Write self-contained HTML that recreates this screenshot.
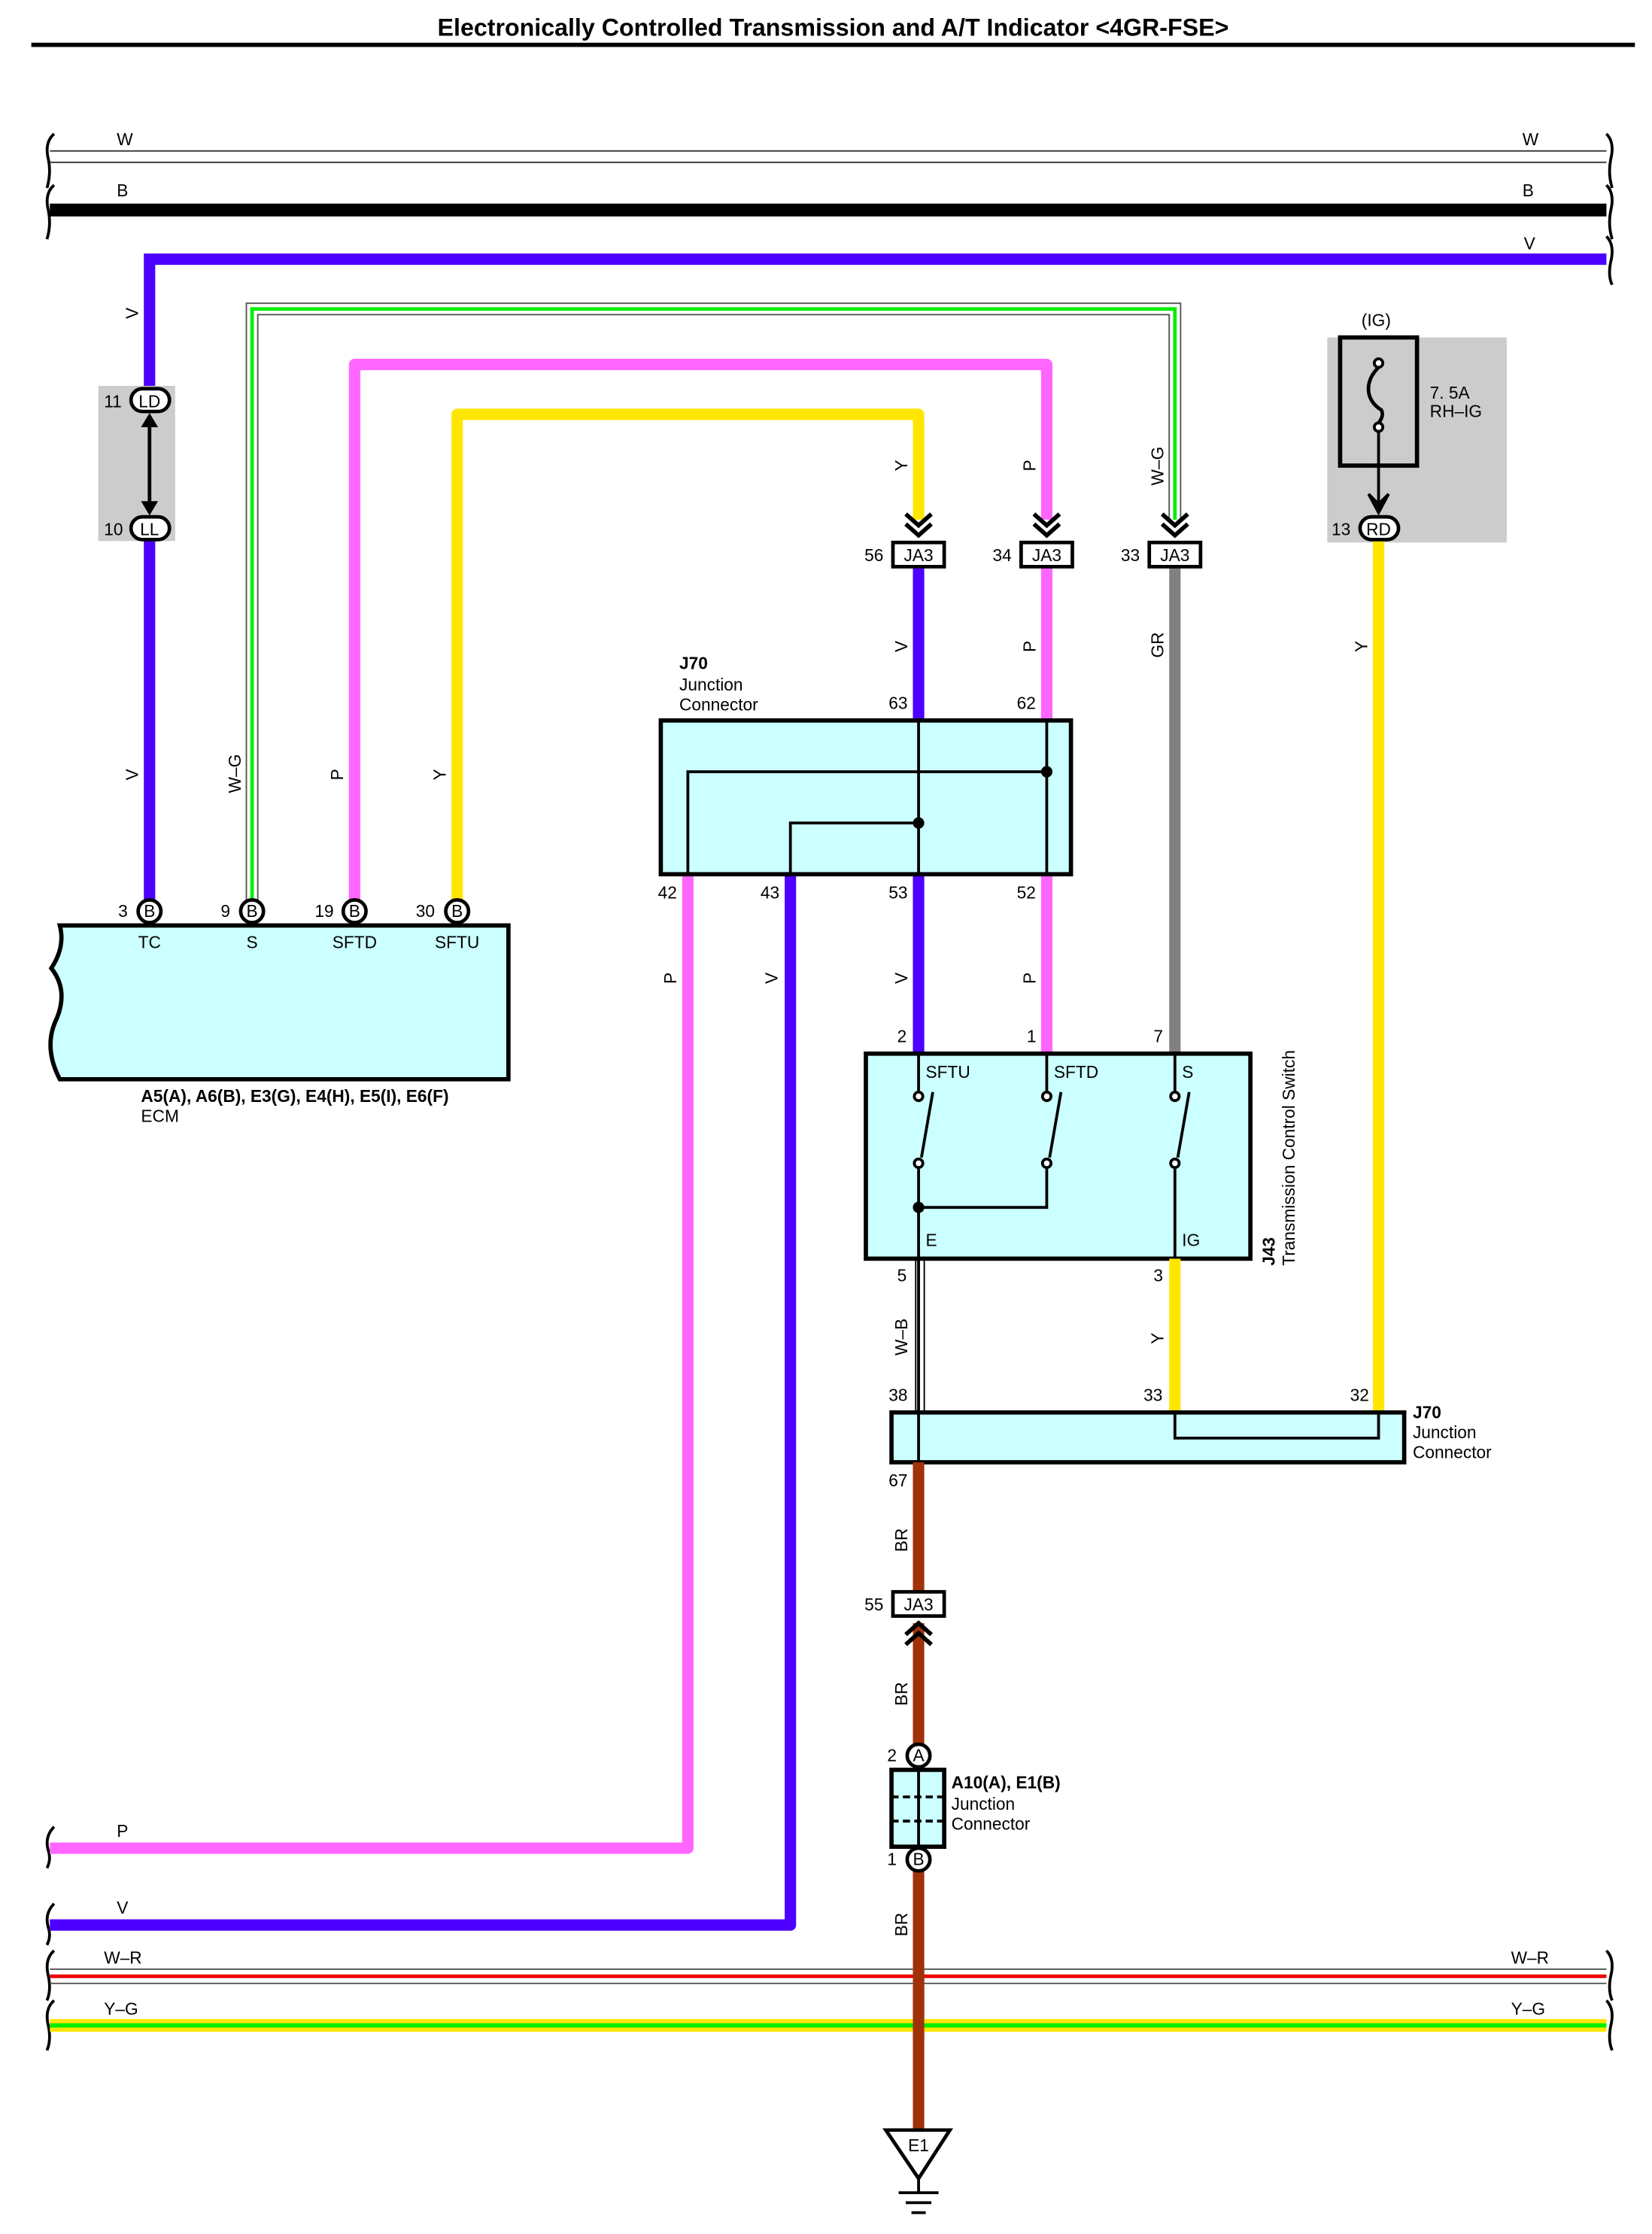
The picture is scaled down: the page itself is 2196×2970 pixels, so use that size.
<!DOCTYPE html>
<html><head><meta charset="utf-8"><style>
html,body{margin:0;padding:0;background:#fff;}
svg{display:block;}
text{font-family:"Liberation Sans",sans-serif;font-size:12px;fill:#000;}
.b{font-weight:bold;}
</style></head><body>
<svg width="2196" height="2970" viewBox="0 0 1160 1569" preserveAspectRatio="none" xmlns="http://www.w3.org/2000/svg">
<defs>
<g id="chev"><path d="M-9,-12 L0,-4 L9,-12 M-9,-5 L0,3 L9,-5" fill="none" stroke="#000" stroke-width="3"/></g>
</defs>
<text x="585" y="25" text-anchor="middle" class="b" style="font-size:17px">Electronically Controlled Transmission and A/T Indicator &lt;4GR-FSE&gt;</text>
<rect x="22" y="30" width="1126" height="3" fill="#000"/>

<!-- braces -->
<g fill="none" stroke="#000" stroke-width="2">
<path d="M38,94 Q31,100 34,112 Q36,122 33,132 M38,130 Q31,136 34,148 Q36,158 33,168"/>
<path d="M1128,94 Q1134,100 1131,112 Q1129,122 1132,132 M1128,130 Q1134,136 1131,148 Q1129,158 1132,168 M1128,166 Q1134,172 1131,184 Q1129,194 1132,200"/>
<path d="M38,1370 Q31,1376 34,1388 Q36,1398 33,1405 M38,1405 Q31,1411 34,1423 Q36,1433 33,1440"/>
<path d="M1128,1370 Q1134,1376 1131,1388 Q1129,1398 1132,1405 M1128,1405 Q1134,1411 1131,1423 Q1129,1433 1132,1440"/>
<path d="M38,1283 Q31,1290 34,1300 Q36,1306 33,1312 M38,1337 Q31,1344 34,1354 Q36,1360 33,1366"/>
</g>

<!-- top buses -->
<line x1="35" y1="106" x2="1128" y2="106" stroke="#333" stroke-width="1"/>
<line x1="35" y1="114" x2="1128" y2="114" stroke="#333" stroke-width="1"/>
<text x="82" y="102">W</text><text x="1069" y="102">W</text>
<rect x="35" y="143" width="1093" height="9" fill="#000"/>
<text x="82" y="138">B</text><text x="1069" y="138">B</text>
<text x="1070" y="175">V</text>

<!-- V wire to LD -->
<path d="M1128,182 L105,182 L105,280" fill="none" stroke="#4d00ff" stroke-width="8"/>
<rect x="69" y="271" width="54" height="109" fill="#cccccc"/>
<line x1="105" y1="371" x2="105" y2="640" stroke="#4d00ff" stroke-width="8"/>
<line x1="105" y1="292" x2="105" y2="360" stroke="#000" stroke-width="2.5"/>
<path d="M99,300 L105,290 L111,300 Z M99,352 L105,362 L111,352 Z" fill="#000"/>
<rect x="92" y="273" width="27" height="16" rx="8" fill="#fff" stroke="#000" stroke-width="2.5"/><text x="105" y="286" text-anchor="middle">LD</text>
<rect x="92" y="363" width="27" height="16" rx="8" fill="#fff" stroke="#000" stroke-width="2.5"/><text x="105" y="376" text-anchor="middle">LL</text>
<text x="73" y="286">11</text><text x="73" y="376">10</text>

<!-- W-G -->
<path d="M177,640 L177,217 L825,217 L825,365" fill="none" stroke="#555" stroke-width="9"/>
<path d="M177,640 L177,217 L825,217 L825,365" fill="none" stroke="#fff" stroke-width="7"/>
<path d="M177,640 L177,217 L825,217 L825,365" fill="none" stroke="#00ee00" stroke-width="2.5"/>
<!-- P -->
<path d="M249,640 L249,256 L735,256 L735,365" fill="none" stroke="#ff66ff" stroke-width="8" stroke-linejoin="round"/>
<!-- Y -->
<path d="M321,640 L321,291 L645,291 L645,365" fill="none" stroke="#ffe600" stroke-width="8" stroke-linejoin="round"/>

<g transform="translate(645,373)"><use href="#chev"/></g>
<g transform="translate(735,373)"><use href="#chev"/></g>
<g transform="translate(825,373)"><use href="#chev"/></g>

<!-- rotated labels -->
<g font-size="12">
<text transform="translate(97,224) rotate(-90)">V</text>
<text transform="translate(97,548) rotate(-90)">V</text>
<text transform="translate(169,557) rotate(-90)">W–G</text>
<text transform="translate(241,548) rotate(-90)">P</text>
<text transform="translate(313,548) rotate(-90)">Y</text>
<text transform="translate(637,331) rotate(-90)">Y</text>
<text transform="translate(727,331) rotate(-90)">P</text>
<text transform="translate(817,341) rotate(-90)">W–G</text>
<text transform="translate(637,458) rotate(-90)">V</text>
<text transform="translate(727,458) rotate(-90)">P</text>
<text transform="translate(817,462) rotate(-90)">GR</text>
<text transform="translate(960,458) rotate(-90)">Y</text>
<text transform="translate(475,691) rotate(-90)">P</text>
<text transform="translate(546,691) rotate(-90)">V</text>
<text transform="translate(637,691) rotate(-90)">V</text>
<text transform="translate(727,691) rotate(-90)">P</text>
<text transform="translate(637,952) rotate(-90)">W–B</text>
<text transform="translate(817,944) rotate(-90)">Y</text>
<text transform="translate(637,1090) rotate(-90)">BR</text>
<text transform="translate(637,1198) rotate(-90)">BR</text>
<text transform="translate(637,1360) rotate(-90)">BR</text>
</g>

<!-- wires below JA3 -->
<line x1="645" y1="397" x2="645" y2="740" stroke="#4d00ff" stroke-width="8"/>
<line x1="735" y1="397" x2="735" y2="740" stroke="#ff66ff" stroke-width="8"/>
<line x1="825" y1="397" x2="825" y2="740" stroke="#808080" stroke-width="8"/>
<path d="M483,614 L483,1298 L35,1298" fill="none" stroke="#ff66ff" stroke-width="8" stroke-linejoin="round"/>
<path d="M555,614 L555,1352 L35,1352" fill="none" stroke="#4d00ff" stroke-width="8" stroke-linejoin="round"/>
<text x="82" y="1290">P</text><text x="82" y="1344">V</text>

<!-- JA3 boxes -->
<g stroke="#000" stroke-width="2.5" fill="#fff">
<rect x="627" y="381" width="36" height="17"/><rect x="717" y="381" width="36" height="17"/><rect x="807" y="381" width="36" height="17"/>
</g>
<text x="645" y="394" text-anchor="middle">JA3</text><text x="735" y="394" text-anchor="middle">JA3</text><text x="825" y="394" text-anchor="middle">JA3</text>
<text x="607" y="394">56</text><text x="697" y="394">34</text><text x="787" y="394">33</text>

<!-- fuse -->
<rect x="932" y="237" width="126" height="144" fill="#cccccc"/>
<rect x="941" y="237" width="54" height="90" fill="none" stroke="#000" stroke-width="3"/>
<text x="956" y="229">(IG)</text>
<circle cx="968" cy="255" r="3" fill="#fff" stroke="#000" stroke-width="2"/>
<circle cx="968" cy="300" r="3" fill="#fff" stroke="#000" stroke-width="2"/>
<path d="M968,258 Q960,266 961,275 Q962,283 970,288 Q972,292 968,297" fill="none" stroke="#000" stroke-width="2.5"/>
<line x1="968" y1="303" x2="968" y2="358" stroke="#000" stroke-width="2"/>
<path d="M961,347 L968,360 L975,347 L968,354 Z" fill="#000" stroke="#000" stroke-width="2"/>
<text x="1004" y="280">7. 5A</text><text x="1004" y="293">RH–IG</text>
<line x1="968" y1="380" x2="968" y2="992" stroke="#ffe600" stroke-width="8"/>
<rect x="955" y="363" width="27" height="16" rx="8" fill="#fff" stroke="#000" stroke-width="2.5"/><text x="968" y="376" text-anchor="middle">RD</text>
<text x="935" y="376">13</text>

<!-- J70 upper -->
<text x="477" y="470" class="b">J70</text><text x="477" y="485">Junction</text><text x="477" y="499">Connector</text>
<rect x="464" y="506" width="288" height="108" fill="#ccffff" stroke="#000" stroke-width="3"/>
<g stroke="#000" stroke-width="2" fill="none">
<line x1="645" y1="506" x2="645" y2="614"/><line x1="735" y1="506" x2="735" y2="614"/>
<path d="M735,542 L483,542 L483,614"/><path d="M645,578 L555,578 L555,614"/>
</g>
<circle cx="735" cy="542" r="4" fill="#000"/><circle cx="645" cy="578" r="4" fill="#000"/>
<text x="624" y="498">63</text><text x="714" y="498">62</text>
<text x="462" y="631">42</text><text x="534" y="631">43</text><text x="624" y="631">53</text><text x="714" y="631">52</text>

<!-- ECM -->
<path d="M42,650 L357,650 L357,758 L42,758 Q30,735 40,715 Q48,695 36,680 Q46,665 42,650 Z" fill="#ccffff" stroke="#000" stroke-width="3"/>
<g stroke="#000" stroke-width="2.5" fill="#fff">
<circle cx="105" cy="640" r="8"/><circle cx="177" cy="640" r="8"/><circle cx="249" cy="640" r="8"/><circle cx="321" cy="640" r="8"/>
</g>
<g text-anchor="middle"><text x="105" y="644">B</text><text x="177" y="644">B</text><text x="249" y="644">B</text><text x="321" y="644">B</text>
<text x="105" y="666">TC</text><text x="177" y="666">S</text><text x="249" y="666">SFTD</text><text x="321" y="666">SFTU</text></g>
<text x="83" y="644">3</text><text x="155" y="644">9</text><text x="221" y="644">19</text><text x="292" y="644">30</text>
<text x="99" y="774" class="b">A5(A), A6(B), E3(G), E4(H), E5(I), E6(F)</text><text x="99" y="788">ECM</text>

<!-- switch -->
<rect x="608" y="740" width="270" height="144" fill="#ccffff" stroke="#000" stroke-width="3"/>
<g stroke="#000" stroke-width="2" fill="none">
<line x1="645" y1="740" x2="645" y2="766"/><line x1="735" y1="740" x2="735" y2="766"/><line x1="825" y1="740" x2="825" y2="766"/>
<line x1="647" y1="813" x2="655" y2="767"/><line x1="737" y1="813" x2="745" y2="767"/><line x1="827" y1="813" x2="835" y2="767"/>
<line x1="645" y1="821" x2="645" y2="884"/><path d="M645,848 L735,848 L735,821"/><line x1="825" y1="821" x2="825" y2="884"/>
<circle cx="645" cy="770" r="3" fill="#fff"/><circle cx="735" cy="770" r="3" fill="#fff"/><circle cx="825" cy="770" r="3" fill="#fff"/>
<circle cx="645" cy="817" r="3" fill="#fff"/><circle cx="735" cy="817" r="3" fill="#fff"/><circle cx="825" cy="817" r="3" fill="#fff"/>
</g>
<circle cx="645" cy="848" r="4" fill="#000"/>
<text x="650" y="757">SFTU</text><text x="740" y="757">SFTD</text><text x="830" y="757">S</text>
<text x="650" y="875">E</text><text x="830" y="875">IG</text>
<text x="630" y="732">2</text><text x="721" y="732">1</text><text x="810" y="732">7</text>
<text transform="translate(895,889) rotate(-90)" class="b">J43</text>
<text transform="translate(909,889) rotate(-90)">Transmission Control Switch</text>

<!-- W-B and Y below -->
<line x1="643" y1="884" x2="643" y2="992" stroke="#000" stroke-width="1"/>
<line x1="649" y1="884" x2="649" y2="992" stroke="#000" stroke-width="1"/>
<line x1="645" y1="884" x2="645" y2="992" stroke="#000" stroke-width="2"/>
<line x1="825" y1="884" x2="825" y2="992" stroke="#ffe600" stroke-width="8"/>
<text x="630" y="900">5</text><text x="810" y="900">3</text>
<text x="624" y="984">38</text><text x="803" y="984">33</text><text x="948" y="984">32</text>

<!-- J70 lower -->
<rect x="626" y="992" width="360" height="35" fill="#ccffff" stroke="#000" stroke-width="3"/>
<g stroke="#000" stroke-width="2" fill="none"><line x1="645" y1="992" x2="645" y2="1027"/><path d="M825,992 L825,1010 L968,1010 L968,992"/></g>
<text x="992" y="996" class="b">J70</text><text x="992" y="1010">Junction</text><text x="992" y="1024">Connector</text>

<!-- BR -->
<line x1="645" y1="1027" x2="645" y2="1118" stroke="#a0320a" stroke-width="8"/>
<line x1="645" y1="1140" x2="645" y2="1226" stroke="#a0320a" stroke-width="8"/>
<line x1="645" y1="1314" x2="645" y2="1497" stroke="#a0320a" stroke-width="8"/>
<text x="624" y="1044">67</text>
<rect x="627" y="1118" width="36" height="17" fill="#fff" stroke="#000" stroke-width="2.5"/><text x="645" y="1131" text-anchor="middle">JA3</text><text x="607" y="1131">55</text>
<path d="M636,1148 L645,1140 L654,1148 M636,1155 L645,1147 L654,1155" fill="none" stroke="#000" stroke-width="3"/>
<rect x="626" y="1243" width="37" height="54" fill="#ccffff" stroke="#000" stroke-width="3"/>
<g stroke="#000" stroke-width="2" stroke-dasharray="5,3"><line x1="626" y1="1262" x2="663" y2="1262"/><line x1="626" y1="1279" x2="663" y2="1279"/></g>
<line x1="645" y1="1243" x2="645" y2="1297" stroke="#000" stroke-width="2"/>
<circle cx="645" cy="1233" r="8" fill="#fff" stroke="#000" stroke-width="2.5"/><text x="645" y="1237" text-anchor="middle">A</text>
<circle cx="645" cy="1306" r="8" fill="#fff" stroke="#000" stroke-width="2.5"/><text x="645" y="1310" text-anchor="middle">B</text>
<text x="623" y="1237">2</text><text x="623" y="1310">1</text>
<text x="668" y="1256" class="b">A10(A), E1(B)</text><text x="668" y="1271">Junction</text><text x="668" y="1285">Connector</text>

<!-- bottom buses -->
<line x1="35" y1="1383" x2="1128" y2="1383" stroke="#555" stroke-width="1"/>
<line x1="35" y1="1388" x2="1128" y2="1388" stroke="#ee0000" stroke-width="2.5"/>
<line x1="35" y1="1393" x2="1128" y2="1393" stroke="#555" stroke-width="1"/>
<text x="73" y="1379">W–R</text><text x="1061" y="1379">W–R</text>
<rect x="35" y="1418" width="1093" height="9" fill="#ffe600"/>
<rect x="35" y="1421" width="1093" height="3" fill="#00ee00"/>
<text x="73" y="1415">Y–G</text><text x="1061" y="1415">Y–G</text>
<line x1="645" y1="1380" x2="645" y2="1432" stroke="#a0320a" stroke-width="8"/>

<!-- ground -->
<path d="M622,1496 L667,1496 L645,1530 Z" fill="#fff" stroke="#000" stroke-width="2.5"/>
<text x="645" y="1511" text-anchor="middle">E1</text>
<g stroke="#000" stroke-width="2"><line x1="645" y1="1530" x2="645" y2="1540"/><line x1="631" y1="1540" x2="659" y2="1540"/><line x1="636" y1="1547" x2="654" y2="1547"/><line x1="640" y1="1554" x2="650" y2="1554"/></g>
</svg>
</body></html>
